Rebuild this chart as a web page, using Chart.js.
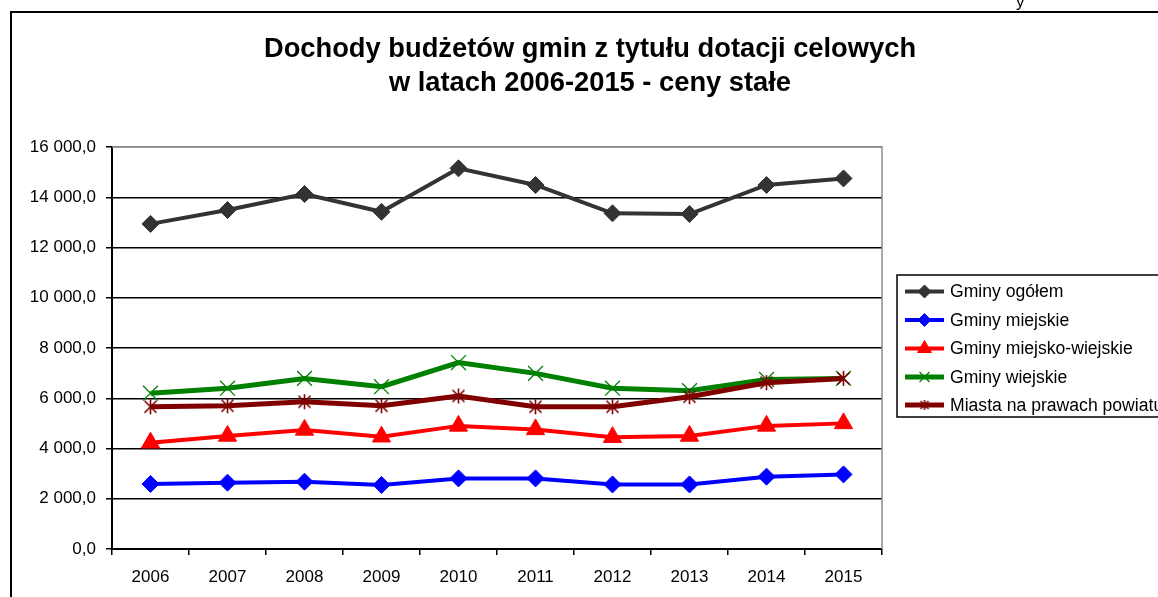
<!DOCTYPE html>
<html>
<head>
<meta charset="utf-8">
<script src="https://cdn.jsdelivr.net/npm/chart.js@4.4.1/dist/chart.umd.min.js"></script>
<style>
  html, body { margin: 0; padding: 0; background: #fff; }
  #wrap { position: relative; width: 1158px; height: 597px; overflow: hidden; }
</style>
</head>
<body>
<div id="wrap"><canvas id="chart" width="1158" height="597"></canvas></div>
<script>
// ---------------- DATA ----------------
const years = ["2006", "2007", "2008", "2009", "2010", "2011", "2012", "2013", "2014", "2015"];
const gminyOgolem = [12940, 13490, 14130, 13420, 15150, 14490, 13360, 13330, 14490, 14750];
const gminyMiejskie = [2590, 2640, 2680, 2550, 2810, 2810, 2570, 2570, 2880, 2970];
const gminyMiejskoWiejskie = [4230, 4500, 4740, 4470, 4900, 4760, 4450, 4500, 4900, 5000];
const gminyWiejskie = [6200, 6400, 6790, 6460, 7420, 6990, 6400, 6300, 6750, 6790];
const miastaNaPrawachPowiatu = [5660, 5700, 5860, 5700, 6090, 5660, 5660, 6060, 6620, 6790];
const seriesNames = ["Gminy ogółem", "Gminy miejskie", "Gminy miejsko-wiejskie", "Gminy wiejskie", "Miasta na prawach powiatu"];
const titleLines = ["Dochody budżetów gmin z tytułu dotacji celowych", "w latach 2006-2015 - ceny stałe"];

const FONT = '"Liberation Sans", Arial, sans-serif';

// asterisk marker (X with vertical bar), like the office one
function makeStar(size, color) {
  const c = document.createElement("canvas");
  c.width = size; c.height = size;
  const g = c.getContext("2d");
  const m = size / 2, r = size / 2 - 1;
  g.strokeStyle = color;
  g.lineWidth = 1.6;
  g.beginPath();
  g.moveTo(m - r * 0.8, m - r * 0.8); g.lineTo(m + r * 0.8, m + r * 0.8);
  g.moveTo(m + r * 0.8, m - r * 0.8); g.lineTo(m - r * 0.8, m + r * 0.8);
  g.moveTo(m, m - r); g.lineTo(m, m + r);
  g.stroke();
  return c;
}

const starBig = makeStar(17, "#800000");
const starSmall = makeStar(12, "#800000");

function fmt(v) {
  return String(Math.round(v)).replace(/\B(?=(\d{3})+(?!\d))/g, " ") + ",0";
}

// ---------------- FRAME, TITLE, LEGEND ----------------
const decor = {
  id: "decor",
  beforeDraw(chart) {
    const ctx = chart.ctx;
    ctx.save();
    ctx.fillStyle = "#fff";
    ctx.fillRect(0, 0, chart.width, chart.height);
    ctx.strokeStyle = "#000";
    ctx.lineWidth = 2;
    ctx.strokeRect(11, 12, 1200, 700);
    ctx.fillStyle = "#000";
    ctx.font = "17px " + FONT;
    ctx.textBaseline = "alphabetic";
    ctx.fillText("y", 1016, 7);
    ctx.restore();
  },
  afterDraw(chart) {
    const ctx = chart.ctx;
    const a = chart.chartArea;
    ctx.save();
    // plot border (gray) on top/right
    ctx.strokeStyle = "#8c8c8c";
    ctx.lineWidth = 1.5;
    ctx.beginPath();
    ctx.moveTo(a.left, a.top);
    ctx.lineTo(a.right, a.top);
    ctx.lineTo(a.right, a.bottom);
    ctx.stroke();

    // title
    ctx.fillStyle = "#000";
    ctx.font = "bold 27.3px " + FONT;
    ctx.textAlign = "center";
    ctx.textBaseline = "middle";
    ctx.fillText(titleLines[0], 590, 49);
    ctx.fillText(titleLines[1], 590, 83);

    // legend
    ctx.strokeStyle = "#000";
    ctx.lineWidth = 1.5;
    ctx.strokeRect(897, 275, 300, 142);
    ctx.font = "17.6px " + FONT;
    ctx.textAlign = "left";
    const rows = [291.5, 320, 348.5, 377, 405];
    chart.data.datasets.forEach((ds, i) => {
      const y = rows[i];
      ctx.strokeStyle = ds.borderColor;
      ctx.lineWidth = ds.borderWidth;
      ctx.beginPath();
      ctx.moveTo(905, y);
      ctx.lineTo(944, y);
      ctx.stroke();
      ctx.fillStyle = ds.pointBackgroundColor;
      ctx.strokeStyle = ds.pointBorderColor;
      ctx.lineWidth = ds.pointBorderWidth;
      Chart.helpers.drawPoint(ctx, {
        pointStyle: ds.legendPoint,
        rotation: 0,
        radius: ds.legendRadius,
        borderWidth: ds.pointBorderWidth
      }, 924.5, y);
      ctx.fillStyle = "#000";
      ctx.fillText(ds.label, 950, y + 1);
    });
    ctx.restore();
  }
};

// ---------------- CHART ----------------
new Chart(document.getElementById("chart"), {
  type: "line",
  data: {
    labels: years,
    datasets: [
      {
        label: seriesNames[0], data: gminyOgolem,
        borderColor: "#333333", borderWidth: 4,
        pointStyle: "rectRot", pointRadius: 8.5, legendPoint: "rectRot", legendRadius: 6.5,
        pointBackgroundColor: "#333333", pointBorderColor: "#333333", pointBorderWidth: 1,
        order: 4
      },
      {
        label: seriesNames[1], data: gminyMiejskie,
        borderColor: "#0000ff", borderWidth: 4,
        pointStyle: "rectRot", pointRadius: 8.5, legendPoint: "rectRot", legendRadius: 6.5,
        pointBackgroundColor: "#0000ff", pointBorderColor: "#0000ff", pointBorderWidth: 1,
        order: 3
      },
      {
        label: seriesNames[2], data: gminyMiejskoWiejskie,
        borderColor: "#ff0000", borderWidth: 4,
        pointStyle: "triangle", pointRadius: 10.5, legendPoint: "triangle", legendRadius: 8,
        pointBackgroundColor: "#ff0000", pointBorderColor: "#ff0000", pointBorderWidth: 1,
        order: 2
      },
      {
        label: seriesNames[3], data: gminyWiejskie,
        borderColor: "#008000", borderWidth: 5,
        pointStyle: "crossRot", pointRadius: 10.5, legendPoint: "crossRot", legendRadius: 7,
        pointBackgroundColor: "#008000", pointBorderColor: "#008000", pointBorderWidth: 1.3,
        order: 1
      },
      {
        label: seriesNames[4], data: miastaNaPrawachPowiatu,
        borderColor: "#800000", borderWidth: 5,
        pointStyle: starBig, pointRadius: 8, legendPoint: starSmall, legendRadius: 6,
        pointBackgroundColor: "#800000", pointBorderColor: "#800000", pointBorderWidth: 1.3,
        order: 0
      }
    ]
  },
  options: {
    responsive: false,
    animation: false,
    layout: { padding: { left: 0, right: 276, top: 147, bottom: 8 } },
    elements: { line: { tension: 0 } },
    plugins: {
      legend: { display: false },
      title: { display: false },
      tooltip: { enabled: false }
    },
    scales: {
      x: {
        type: "category",
        offset: true,
        afterFit: s => { s.height = 40; },
        grid: {
          offset: true,
          drawOnChartArea: false,
          drawTicks: true,
          tickLength: 6,
          color: "#000",
          lineWidth: 1.5
        },
        border: { display: true, color: "#000", width: 2 },
        ticks: {
          color: "#000",
          font: { family: FONT, size: 17 },
          padding: 12,
          maxRotation: 0,
          autoSkip: false
        }
      },
      y: {
        min: 0,
        max: 16000,
        afterFit: s => { s.width = 112; },
        grid: {
          color: ctx => (ctx.tick && ctx.tick.value === 16000 ? "#8c8c8c" : "#000"),
          lineWidth: 1.5,
          drawTicks: true,
          tickLength: 6,
          tickColor: "#000"
        },
        border: { display: true, color: "#000", width: 2 },
        ticks: {
          stepSize: 2000,
          color: "#000",
          font: { family: FONT, size: 17 },
          padding: 10,
          callback: v => fmt(v)
        }
      }
    }
  },
  plugins: [decor]
});
</script>
</body>
</html>
